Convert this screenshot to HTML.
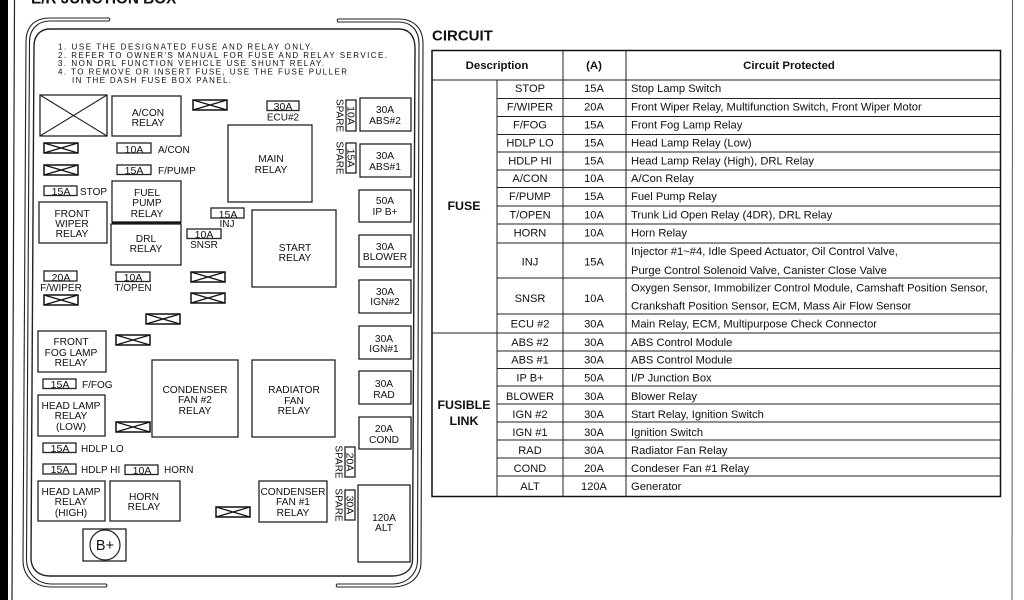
<!DOCTYPE html>
<html><head><meta charset="utf-8"><style>
html,body{margin:0;padding:0;background:#fff}
svg{display:block;filter:blur(.3px)}
text{font-family:"Liberation Sans",sans-serif;fill:#111}
.b rect,rect.b{fill:none;stroke:#222;stroke-width:1.3}
.r{font-size:10.2px;text-anchor:middle}
.l{font-size:10px}
.f{font-size:10.5px;text-anchor:middle}
.n{font-size:8px}
.t{font-size:11.2px}
.c{font-size:11.1px;text-anchor:middle}
.h{font-size:11.4px;font-weight:bold;text-anchor:middle}
.g{font-size:12.4px;font-weight:bold;text-anchor:middle}
.ln{stroke:#222;stroke-width:1;fill:none}
</style></head><body>
<svg xmlns="http://www.w3.org/2000/svg" width="1024" height="600" viewBox="0 0 1024 600">
<defs><g id="x"><rect x="0" y="0" width="34" height="10" fill="none" stroke="#111" stroke-width="1.5"/><path d="M0 0L34 10M0 10L34 0" stroke="#111" stroke-width="1.2" fill="none"/></g></defs>
<rect x="0" y="0" width="1024" height="600" fill="#fff"/>
<rect x="0" y="0" width="8" height="600" fill="#000"/>
<path d="M14.5 0L12 600" stroke="#222" stroke-width="1.2"/>
<path d="M1012.5 0L1012 600" stroke="#555" stroke-width="1"/>
<text x="31" y="3.500" style="font-size:15.300px;font-weight:bold">E/R JUNCTION BOX</text>

<!-- outer frame -->
<g fill="none" stroke="#222" stroke-width="1.1">
<path d="M109 18H50C35 18 26 26 26 42L23 560C23 576 34 587 52 587H106Q108 585.500 106 584H52C38 584 26 574 26.500 558L29.500 42C29.500 29 38 21 50 21H109Q110.500 19.500 109 18Z"/>
<path d="M338 19H398C414 19 423 28 423 44L421 562C421 577 410 587 392 587H337Q335.500 585.500 337 584H392C407 584 417.500 574 417.500 560L419 44C419 30 411 22 398 22H338Q336.500 20.500 338 19Z"/>
<path d="M50 29H399C409 29 415 36 415 48L412.500 560C412.500 570 404 576 392 576H50C38 576 31 569 31 558L34 46C34 36 40 29 50 29Z" stroke-width="1.4"/>
</g>

<g class="n">
<text x="58" y="49.500" textLength="255">1.  USE THE DESIGNATED FUSE AND RELAY ONLY.</text>
<text x="58" y="57.800" textLength="329">2.  REFER TO OWNER'S MANUAL FOR FUSE AND RELAY SERVICE.</text>
<text x="58" y="66" textLength="266">3.  NON DRL FUNCTION VEHICLE USE SHUNT RELAY.</text>
<text x="58" y="74.500" textLength="289">4.  TO REMOVE OR INSERT FUSE, USE THE FUSE PULLER</text>
<text x="72" y="83" textLength="159">IN THE DASH FUSE BOX PANEL.</text>
</g>

<g class="b">
<rect x="40" y="95" width="67" height="41"/>
<rect x="112" y="96" width="69" height="40"/>
<rect x="228" y="125" width="84" height="77"/>
<rect x="360" y="98" width="51" height="33"/>
<rect x="360" y="144" width="51" height="33"/>
<rect x="359" y="190" width="52" height="32"/>
<rect x="359" y="235" width="52" height="32"/>
<rect x="359" y="280" width="52" height="33"/>
<rect x="359" y="326" width="52" height="33"/>
<rect x="359" y="371" width="52" height="33"/>
<rect x="359" y="417" width="52" height="32"/>
<rect x="358" y="485" width="52" height="77"/>
<rect x="259" y="481" width="68" height="41"/>
<rect x="83" y="529" width="43" height="32"/>
<rect x="38" y="481" width="67" height="40"/>
<rect x="110" y="481" width="70" height="40"/>
<rect x="38" y="395" width="67" height="41"/>
<rect x="38" y="331" width="68" height="41"/>
<rect x="152" y="360" width="86" height="77"/>
<rect x="252" y="360" width="83" height="77"/>
<rect x="112" y="181" width="69" height="41"/>
<rect x="111" y="224" width="70" height="41"/>
<rect x="39" y="202" width="68" height="41"/>
<rect x="252" y="210" width="84" height="77"/>
<!-- fuses -->
<rect x="267" y="101" width="32" height="9.500"/>
<rect x="346" y="100" width="10" height="31"/>
<rect x="346" y="143" width="10" height="30"/>
<rect x="345" y="447" width="10" height="30"/>
<rect x="345" y="490" width="10" height="30"/>
<rect x="43" y="464" width="33" height="10"/>
<rect x="125" y="465" width="33" height="9.500"/>
<rect x="43" y="443" width="33" height="9.500"/>
<rect x="43" y="379" width="33" height="9.500"/>
<rect x="44" y="186" width="33" height="9.500"/>
<rect x="117" y="143" width="34" height="10"/>
<rect x="117" y="165" width="34" height="9.500"/>
<rect x="211" y="208" width="33" height="10"/>
<rect x="187" y="229" width="34" height="9.500"/>
<rect x="44" y="271" width="33" height="10"/>
<rect x="116" y="272" width="34" height="9.500"/>
</g>
<path d="M40 95L107 136M40 136L107 95" stroke="#222" stroke-width="1.1"/>
<path d="M112 222.500H181" stroke="#111" stroke-width="2"/>

<use href="#x" x="193" y="100"/>
<use href="#x" x="44" y="143"/>
<use href="#x" x="44" y="165"/>
<use href="#x" x="191" y="272"/>
<use href="#x" x="191" y="293"/>
<use href="#x" x="44" y="295"/>
<use href="#x" x="146" y="314"/>
<use href="#x" x="116" y="335"/>
<use href="#x" x="116" y="422"/>
<use href="#x" x="216" y="507"/>

<circle cx="105" cy="545" r="15" fill="none" stroke="#222" stroke-width="1.2"/>
<text x="105" y="550" style="font-size:14.500px;text-anchor:middle">B+</text>

<g class="r">
<text x="148" y="116">A/CON</text><text x="148" y="126">RELAY</text>
<text x="271" y="162">MAIN</text><text x="271" y="173">RELAY</text>
<text x="385" y="113">30A</text><text x="385" y="124">ABS#2</text>
<text x="385" y="159">30A</text><text x="385" y="170">ABS#1</text>
<text x="385" y="204">50A</text><text x="385" y="215">IP B+</text>
<text x="385" y="250">30A</text><text x="385" y="260">BLOWER</text>
<text x="385" y="295">30A</text><text x="385" y="305">IGN#2</text>
<text x="384" y="342">30A</text><text x="384" y="352">IGN#1</text>
<text x="384" y="387">30A</text><text x="384" y="398">RAD</text>
<text x="384" y="432">20A</text><text x="384" y="443">COND</text>
<text x="384" y="521">120A</text><text x="384" y="531">ALT</text>
<text x="293" y="495">CONDENSER</text><text x="293" y="505">FAN #1</text><text x="293" y="516">RELAY</text>
<text x="71" y="495">HEAD LAMP</text><text x="71" y="505">RELAY</text><text x="71" y="516">(HIGH)</text>
<text x="144" y="500">HORN</text><text x="144" y="510">RELAY</text>
<text x="71" y="409">HEAD LAMP</text><text x="71" y="419">RELAY</text><text x="71" y="430">(LOW)</text>
<text x="71" y="345">FRONT</text><text x="71" y="356">FOG LAMP</text><text x="71" y="366">RELAY</text>
<text x="195" y="393">CONDENSER</text><text x="195" y="403">FAN #2</text><text x="195" y="414">RELAY</text>
<text x="294" y="393">RADIATOR</text><text x="294" y="404">FAN</text><text x="294" y="414">RELAY</text>
<text x="147" y="196">FUEL</text><text x="147" y="206">PUMP</text><text x="147" y="217">RELAY</text>
<text x="146" y="242">DRL</text><text x="146" y="252">RELAY</text>
<text x="72" y="217">FRONT</text><text x="72" y="227">WIPER</text><text x="72" y="237">RELAY</text>
<text x="295" y="251">START</text><text x="295" y="261">RELAY</text>
</g>

<g class="f">
<text x="283" y="110">30A</text>
<text x="60" y="473">15A</text><text x="142" y="474">10A</text>
<text x="60" y="452">15A</text><text x="60" y="388">15A</text>
<text x="61" y="195">15A</text>
<text x="134" y="153">10A</text><text x="134" y="174">15A</text>
<text x="228" y="218">15A</text><text x="204" y="238">10A</text>
<text x="61" y="281">20A</text><text x="133" y="281">10A</text>
<text transform="translate(347.500 115.500) rotate(90)">10A</text>
<text transform="translate(347.500 158) rotate(90)">15A</text>
<text transform="translate(346.500 462) rotate(90)">20A</text>
<text transform="translate(346.500 505) rotate(90)">30A</text>
</g>
<g class="l">
<text x="283" y="120.500" text-anchor="middle">ECU#2</text>
<text x="158" y="153">A/CON</text><text x="158" y="174">F/PUMP</text>
<text x="80" y="195">STOP</text>
<text x="227" y="227" text-anchor="middle">INJ</text>
<text x="204" y="248" text-anchor="middle">SNSR</text>
<text x="61" y="291" text-anchor="middle">F/WIPER</text>
<text x="133" y="291" text-anchor="middle">T/OPEN</text>
<text x="82" y="388">F/FOG</text>
<text x="81" y="452">HDLP LO</text>
<text x="81" y="473">HDLP HI</text>
<text x="164" y="473">HORN</text>
<text transform="translate(336.500 115.500) rotate(90)" text-anchor="middle" style="font-size:10px">SPARE</text>
<text transform="translate(336.500 158) rotate(90)" text-anchor="middle" style="font-size:10px">SPARE</text>
<text transform="translate(335.500 462) rotate(90)" text-anchor="middle" style="font-size:10px">SPARE</text>
<text transform="translate(335.500 505) rotate(90)" text-anchor="middle" style="font-size:10px">SPARE</text>
</g>

<!-- table -->
<text x="432" y="40.500" style="font-size:15px;font-weight:bold">CIRCUIT</text>
<rect x="432" y="50.500" width="568.500" height="446" fill="none" stroke="#111" stroke-width="1.500"/>
<path class="ln" d="M432 80H1001M497 80V497M563 50V497M626 50V497M432 333H1001" stroke-width="1.200"/>
<path class="ln" d="M497 98.500H1001M497 116.500H1001M497 134.500H1001M497 152H1001M497 170H1001M497 187.500H1001M497 206H1001M497 224H1001M497 243H1001M497 278H1001M497 314H1001M497 351H1001M497 368.500H1001M497 386H1001M497 404H1001M497 422H1001M497 440H1001M497 458H1001M497 476H1001"/>
<text class="h" x="497" y="69">Description</text>
<text class="h" x="594" y="69">(A)</text>
<text class="h" x="789" y="69">Circuit Protected</text>
<text class="g" x="464" y="210">FUSE</text>
<text class="g" x="464" y="409">FUSIBLE</text>
<text class="g" x="464" y="425">LINK</text>

<g class="c">
<text x="530" y="92">STOP</text><text x="594" y="92">15A</text>
<text x="530" y="110.500">F/WIPER</text><text x="594" y="110.500">20A</text>
<text x="530" y="128.500">F/FOG</text><text x="594" y="128.500">15A</text>
<text x="530" y="146.500">HDLP LO</text><text x="594" y="146.500">15A</text>
<text x="530" y="164.500">HDLP HI</text><text x="594" y="164.500">15A</text>
<text x="530" y="182">A/CON</text><text x="594" y="182">10A</text>
<text x="530" y="200">F/PUMP</text><text x="594" y="200">15A</text>
<text x="530" y="218.500">T/OPEN</text><text x="594" y="218.500">10A</text>
<text x="530" y="236.500">HORN</text><text x="594" y="236.500">10A</text>
<text x="530" y="265.500">INJ</text><text x="594" y="265.500">15A</text>
<text x="530" y="302">SNSR</text><text x="594" y="302">10A</text>
<text x="530" y="327.500">ECU #2</text><text x="594" y="327.500">30A</text>
<text x="530" y="346">ABS #2</text><text x="594" y="346">30A</text>
<text x="530" y="363.500">ABS #1</text><text x="594" y="363.500">30A</text>
<text x="530" y="381.500">IP B+</text><text x="594" y="381.500">50A</text>
<text x="530" y="400">BLOWER</text><text x="594" y="400">30A</text>
<text x="530" y="418">IGN #2</text><text x="594" y="418">30A</text>
<text x="530" y="436">IGN #1</text><text x="594" y="436">30A</text>
<text x="530" y="454">RAD</text><text x="594" y="454">30A</text>
<text x="530" y="472">COND</text><text x="594" y="472">20A</text>
<text x="530" y="490">ALT</text><text x="594" y="490">120A</text>
</g>
<g class="t">
<text x="631" y="92">Stop Lamp Switch</text>
<text x="631" y="110.500">Front Wiper Relay, Multifunction Switch, Front Wiper Motor</text>
<text x="631" y="128.500">Front Fog Lamp Relay</text>
<text x="631" y="146.500">Head Lamp Relay (Low)</text>
<text x="631" y="164.500">Head Lamp Relay (High), DRL Relay</text>
<text x="631" y="182">A/Con Relay</text>
<text x="631" y="200">Fuel Pump Relay</text>
<text x="631" y="218.500">Trunk Lid Open Relay (4DR), DRL Relay</text>
<text x="631" y="236.500">Horn Relay</text>
<text x="631" y="255">Injector #1~#4, Idle Speed Actuator, Oil Control Valve,</text>
<text x="631" y="274">Purge Control Solenoid Valve, Canister Close Valve</text>
<text x="631" y="291.500">Oxygen Sensor, Immobilizer Control Module, Camshaft Position Sensor,</text>
<text x="631" y="309.500">Crankshaft Position Sensor, ECM, Mass Air Flow Sensor</text>
<text x="631" y="327.500">Main Relay, ECM, Multipurpose Check Connector</text>
<text x="631" y="346">ABS Control Module</text>
<text x="631" y="363.500">ABS Control Module</text>
<text x="631" y="381.500">I/P Junction Box</text>
<text x="631" y="400">Blower Relay</text>
<text x="631" y="418">Start Relay, Ignition Switch</text>
<text x="631" y="436">Ignition Switch</text>
<text x="631" y="454">Radiator Fan Relay</text>
<text x="631" y="472">Condeser Fan #1 Relay</text>
<text x="631" y="490">Generator</text>
</g>
</svg>
</body></html>
